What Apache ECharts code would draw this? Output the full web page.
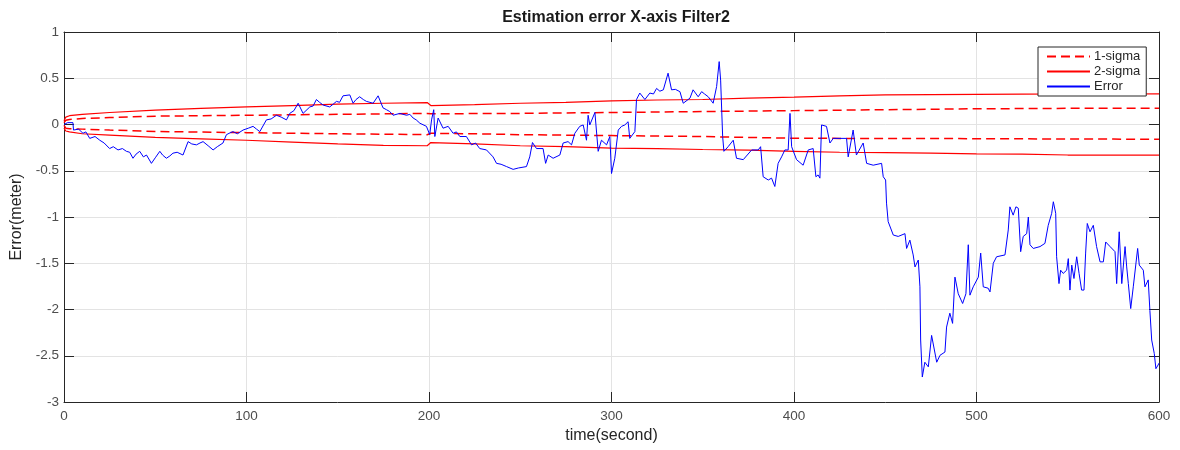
<!DOCTYPE html>
<html>
<head>
<meta charset="utf-8">
<title>Estimation error X-axis Filter2</title>
<script src="https://cdn.jsdelivr.net/npm/echarts@6/dist/echarts.min.js"></script>
<style>
  html, body { margin: 0; padding: 0; background: #ffffff; }
  #chart { width: 1180px; height: 450px; }
</style>
</head>
<body>
<div id="chart"></div>
<script>
// Time stamps (s) at which the filter's covariance bounds are sampled
const sigmaTime   = [0, 1, 3, 10, 25, 50, 75, 100, 125, 150, 175, 199, 201, 225, 250, 275, 300, 325, 350, 375, 400, 425, 450, 475, 500, 525, 550, 575, 600];
const sigma1Upper = [0.02, 0.045, 0.055, 0.065, 0.075, 0.09, 0.095, 0.1, 0.105, 0.11, 0.115, 0.12, 0.115, 0.118, 0.12, 0.125, 0.13, 0.135, 0.14, 0.145, 0.15, 0.155, 0.16, 0.165, 0.17, 0.172, 0.175, 0.176, 0.176];
const sigma1Lower = [-0.01, -0.04, -0.045, -0.05, -0.06, -0.075, -0.082, -0.088, -0.094, -0.1, -0.105, -0.11, -0.095, -0.1, -0.11, -0.115, -0.12, -0.125, -0.13, -0.14, -0.148, -0.15, -0.15, -0.152, -0.153, -0.155, -0.157, -0.158, -0.16];
const sigma2Upper = [0.04, 0.08, 0.095, 0.11, 0.13, 0.155, 0.175, 0.19, 0.205, 0.22, 0.23, 0.237, 0.205, 0.215, 0.23, 0.24, 0.255, 0.265, 0.27, 0.285, 0.295, 0.31, 0.32, 0.322, 0.325, 0.328, 0.33, 0.33, 0.332];
const sigma2Lower = [-0.04, -0.07, -0.08, -0.1, -0.115, -0.14, -0.155, -0.17, -0.19, -0.21, -0.225, -0.23, -0.195, -0.21, -0.23, -0.24, -0.255, -0.26, -0.27, -0.278, -0.29, -0.3, -0.305, -0.31, -0.318, -0.32, -0.33, -0.33, -0.332];

// Estimation error trace: [time (s), error (m)]
const errorPoints = [
  [0, 0.0], [2, 0.02], [4.9, 0.02], [5.2, -0.06], [8, -0.05], [10.4, -0.095], [12, -0.08], [14.1, -0.15], [17, -0.13],
  [19.6, -0.17], [22, -0.2], [25, -0.26], [27, -0.24], [29.6, -0.275], [32, -0.26], [34.2, -0.29], [36, -0.3],
  [37.8, -0.365], [39.5, -0.32], [41.5, -0.29], [43.5, -0.35], [45.2, -0.33], [47.9, -0.42], [50, -0.36],
  [52.5, -0.29], [54, -0.33], [56.1, -0.365], [58, -0.34], [59.7, -0.31], [62, -0.3], [65.2, -0.33],
  [68, -0.185], [70, -0.21], [72.6, -0.22], [74.5, -0.2], [76.2, -0.185], [79, -0.23], [81.7, -0.275],
  [84, -0.24], [87.1, -0.2], [89, -0.11], [91, -0.09], [92.6, -0.077], [95, -0.1], [98.1, -0.06],
  [101, -0.04], [103.6, -0.02], [105.5, -0.05], [107.3, -0.077], [110.9, 0.05], [113.5, 0.06], [116.4, 0.1],
  [119, 0.08], [121.9, 0.05], [123.7, 0.12], [126, 0.15], [128.3, 0.23], [131, 0.12], [134.7, 0.19],
  [136.5, 0.2], [138.3, 0.27], [140, 0.24], [142, 0.21], [145.6, 0.19], [147.5, 0.22], [149.3, 0.25],
  [151, 0.24], [152.9, 0.31], [156.6, 0.32], [158.4, 0.23], [160, 0.27], [162, 0.3], [164, 0.27],
  [165.7, 0.25], [169.4, 0.23], [172.1, 0.31], [174.8, 0.18], [176.7, 0.16], [178.5, 0.14], [180.3, 0.1],
  [184, 0.12], [187.7, 0.1], [189.5, 0.11], [191.3, 0.07], [193, 0.05], [195, 0.014], [198.6, -0.02],
  [200.4, -0.11], [201.4, 0.05], [202.6, 0.16], [203.2, -0.13], [205, 0.07], [207.7, -0.04], [210.5, -0.02],
  [213.2, -0.095], [215, -0.08], [216.9, -0.13], [220.5, -0.13], [223.3, -0.22], [225.5, -0.2],
  [227.8, -0.26], [231.5, -0.275], [235.1, -0.35], [237, -0.42], [239.5, -0.43], [242.5, -0.455],
  [246.1, -0.485], [249, -0.47], [253.4, -0.455], [255.2, -0.35], [256.7, -0.195], [258.9, -0.26],
  [262.5, -0.26], [263.9, -0.42], [265.3, -0.33], [268, -0.365], [271.7, -0.33], [273.5, -0.2],
  [276.2, -0.185], [278.1, -0.22], [279.9, -0.095], [282.6, -0.02], [284.5, -0.005], [286.3, -0.17],
  [287.2, 0.1], [288.1, -0.005], [290.9, 0.13], [292.7, -0.29], [294.5, -0.17], [297.3, -0.22],
  [299.1, -0.13], [300, -0.53], [301.8, -0.365], [303.7, -0.06], [305.5, -0.02], [307.3, -0.005],
  [309.1, 0.03], [310, -0.15], [312.8, -0.077], [313.7, 0.27], [315.5, 0.34], [318.3, 0.27], [321, 0.34],
  [323, 0.33], [324.7, 0.39], [326.5, 0.36], [328.4, 0.375], [331, 0.555], [332.9, 0.375], [335, 0.38],
  [337.5, 0.355], [339.3, 0.23], [343, 0.285], [344.7, 0.375], [347.5, 0.3], [349.4, 0.355], [351, 0.33],
  [353, 0.3], [355.7, 0.23], [357.6, 0.41], [359, 0.68], [359.8, 0.48], [360.9, -0.13], [361.6, -0.29],
  [363.9, -0.24], [366.7, -0.17], [368.5, -0.365], [372.2, -0.38], [376.8, -0.275], [380.4, -0.275],
  [381.7, -0.24], [383.1, -0.565], [385.9, -0.6], [387.7, -0.58], [389.5, -0.67], [391.3, -0.42],
  [393.2, -0.35], [395, -0.275], [396.8, -0.275], [397.8, 0.12], [398.7, -0.24], [401.4, -0.38],
  [405, -0.44], [407.8, -0.275], [410.5, -0.26], [412, -0.565], [413.2, -0.545], [414.2, -0.58],
  [415.1, -0.005], [417.8, -0.02], [419.7, -0.2], [421.5, -0.15], [425.2, -0.15], [428.8, -0.15],
  [429.7, -0.35], [432.4, -0.06], [434.2, -0.33], [437.9, -0.2], [439.8, -0.42], [443.4, -0.44],
  [448, -0.42], [448.9, -0.565], [450.2, -0.6], [450.7, -0.85], [451.6, -1.05], [454.4, -1.195],
  [457.1, -1.21], [460.8, -1.18], [461.7, -1.34], [463.5, -1.25], [465.3, -1.41], [466.3, -1.54],
  [468.1, -1.465], [469, -1.755], [469.4, -2.33], [470.3, -2.73], [471.7, -2.57], [473.6, -2.62],
  [475.4, -2.28], [478.2, -2.57], [480, -2.495], [482.7, -2.46], [483.6, -2.19], [485.4, -2.04],
  [486.9, -2.15], [488.2, -1.65], [490, -1.83], [492.4, -1.935], [494.2, -1.83], [495.5, -1.3],
  [496.4, -1.845], [498.2, -1.755], [501, -1.65], [502.3, -1.39], [503.7, -1.755], [506.4, -1.77],
  [507.4, -1.81], [509.2, -1.5], [511, -1.43], [515.6, -1.41], [517.4, -1.14], [518.3, -0.89],
  [520.1, -0.98], [521.6, -0.89], [522.9, -0.905], [524.2, -1.375], [525.6, -1.21], [527.5, -1.18],
  [528.4, -1.0], [529.3, -1.3], [531.1, -1.34], [534.8, -1.32], [537.5, -1.285], [538.5, -1.27],
  [539.3, -1.09], [541.2, -0.96], [542.1, -0.835], [543.4, -0.96], [543.9, -1.43], [545.2, -1.72],
  [546.1, -1.575], [547.5, -1.61], [549.4, -1.575], [550.3, -1.45], [551.2, -1.79], [552.2, -1.52],
  [553.4, -1.665], [554.9, -1.43], [556.2, -1.61], [557.6, -1.79], [558.9, -1.79], [559.8, -1.39],
  [560.7, -1.07], [562.2, -1.16], [564, -1.09], [565.8, -1.32], [567.7, -1.485], [569.5, -1.485],
  [570.8, -1.27], [573.2, -1.32], [575.9, -1.375], [576.8, -1.72], [578.2, -1.16], [579.6, -1.72],
  [581.4, -1.32], [582.3, -1.54], [583.2, -1.72], [584.5, -1.99], [585.9, -1.755], [586.8, -1.755],
  [588.3, -1.34], [589.2, -1.52], [591.4, -1.575], [592.3, -1.755], [594.1, -1.68], [595, -2.01],
  [596, -2.33], [597.4, -2.475], [598.3, -2.64], [599.5, -2.6], [600, -2.58]
];

const xTicks = { min: 0, max: 600, step: 100 };
const yTicks = { min: -3, max: 1, step: 0.5 };

const RED = '#ff0000';
const BLUE = '#0000ff';
const AXIS = '#262626';
const TICK_TEXT = '#4d4d4d';
const FONT = '"Liberation Sans", Arial, Helvetica, sans-serif';

const zip = (xs, ys) => xs.map((x, i) => [x, ys[i]]);

const chart = echarts.init(document.getElementById('chart'), null, { renderer: 'canvas' });

// Axis used both for the labelled sides and for the mirrored box sides (top/right)
function boxAxis(base, extra) {
  return Object.assign({
    type: 'value',
    axisLine: { show: true, onZero: false, lineStyle: { color: AXIS, width: 1 } },
    axisTick: { show: true, inside: true, length: 10, lineStyle: { color: AXIS, width: 1 } },
    splitLine: { show: false },
    axisLabel: { show: false }
  }, base, extra);
}

const sigmaLine = (name, xs, ys, dashed) => ({
  name: name,
  type: 'line',
  data: zip(xs, ys),
  showSymbol: false,
  symbol: 'none',
  silent: true,
  lineStyle: { color: RED, width: dashed ? 1.5 : 1.2, type: dashed ? [9, 5] : 'solid' },
  itemStyle: { color: RED },
  z: 2
});

chart.setOption({
  backgroundColor: '#ffffff',
  animation: false,
  textStyle: { fontFamily: FONT },
  title: {
    text: 'Estimation error X-axis Filter2',
    left: 611,
    top: 5,
    textAlign: 'center',
    textStyle: { fontFamily: FONT, fontSize: 16, fontWeight: 'bold', color: '#1a1a1a' }
  },
  grid: { left: 64, right: 21, top: 32, bottom: 48, containLabel: false },
  legend: {
    data: ['1-sigma', '2-sigma', 'Error'],
    orient: 'vertical',
    left: 1038,
    top: 47,
    padding: [3, 6, 3, 8],
    itemWidth: 43,
    itemHeight: 14,
    itemGap: 2,
    backgroundColor: '#ffffff',
    borderColor: AXIS,
    borderWidth: 1,
    borderRadius: 0,
    selectedMode: false,
    itemStyle: { color: 'transparent', borderColor: 'transparent', borderWidth: 0, opacity: 0 },
    textStyle: { fontFamily: FONT, fontSize: 13, color: '#262626', padding: [0, 0, 0, -1] }
  },
  xAxis: [
    boxAxis({
      position: 'bottom',
      min: xTicks.min, max: xTicks.max, interval: xTicks.step,
      name: 'time(second)',
      nameLocation: 'middle',
      nameGap: 26,
      nameTextStyle: { fontFamily: FONT, fontSize: 16, color: '#262626' },
      splitLine: { show: true, lineStyle: { color: '#e3e3e3', width: 1 } },
      axisLabel: { show: true, margin: 7, fontSize: 13.5, color: TICK_TEXT, fontFamily: FONT }
    }),
    boxAxis({ position: 'top', min: xTicks.min, max: xTicks.max, interval: xTicks.step })
  ],
  yAxis: [
    boxAxis({
      position: 'left',
      min: yTicks.min, max: yTicks.max, interval: yTicks.step,
      name: 'Error(meter)',
      nameLocation: 'middle',
      nameGap: 29,
      nameTextStyle: { fontFamily: FONT, fontSize: 16, color: '#262626' },
      splitLine: { show: true, lineStyle: { color: '#e3e3e3', width: 1 } },
      axisLabel: { show: true, margin: 5, fontSize: 13.5, color: TICK_TEXT, fontFamily: FONT }
    }),
    boxAxis({ position: 'right', min: yTicks.min, max: yTicks.max, interval: yTicks.step })
  ],
  series: [
    sigmaLine('1-sigma', sigmaTime, sigma1Upper, true),
    sigmaLine('1-sigma', sigmaTime, sigma1Lower, true),
    sigmaLine('2-sigma', sigmaTime, sigma2Upper, false),
    sigmaLine('2-sigma', sigmaTime, sigma2Lower, false),
    {
      name: 'Error',
      type: 'line',
      data: errorPoints,
      showSymbol: false,
      symbol: 'none',
      silent: true,
      lineStyle: { color: BLUE, width: 1 },
      itemStyle: { color: BLUE },
      z: 3
    }
  ]
});
</script>
</body>
</html>
